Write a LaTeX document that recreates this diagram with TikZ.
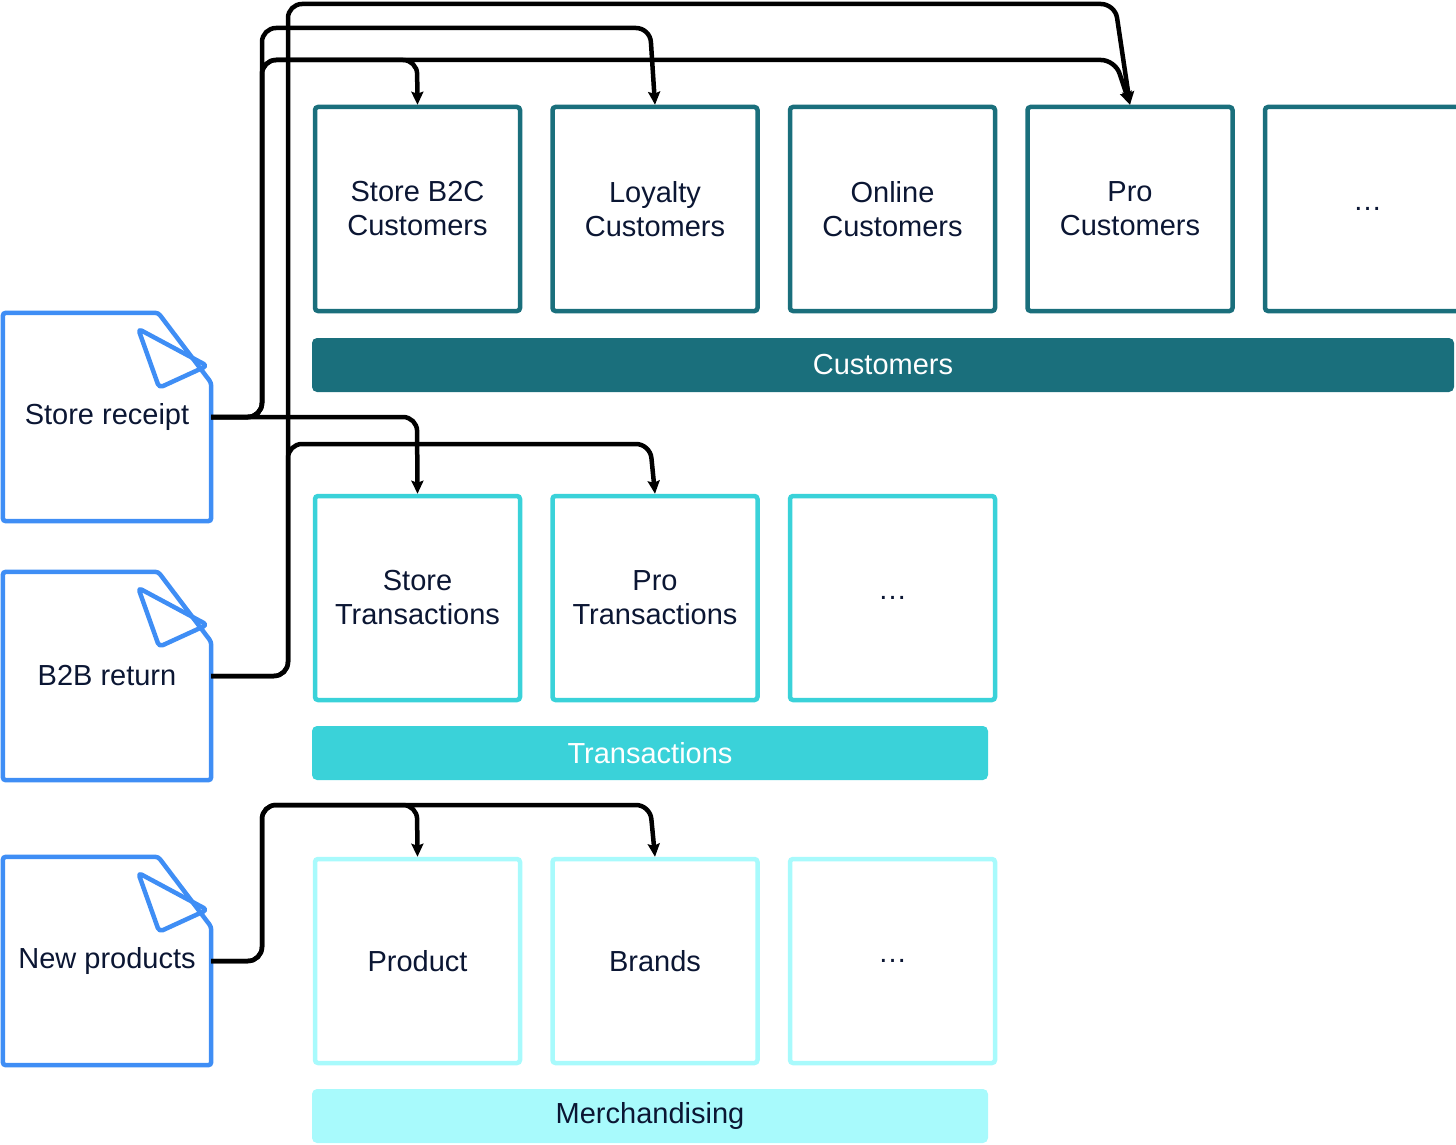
\documentclass[tikz,border=0pt]{standalone}
\usepackage{fontspec}
\setmainfont{Liberation Sans}
\usetikzlibrary{arrows.meta,positioning}
\definecolor{cust}{HTML}{1A6F7C}
\definecolor{trans}{HTML}{3AD2D9}
\definecolor{merch}{HTML}{A8FAFC}
\definecolor{docblue}{HTML}{3F8EF5}
\definecolor{ink}{HTML}{0B1633}
\tikzset{
  box/.style={draw=#1, line width=4.5pt, rounded corners=3pt, minimum width=205pt, minimum height=204pt, align=center, text=ink, inner sep=0pt},
  bar/.style={fill=#1, rounded corners=5pt, minimum width=1142pt, minimum height=54pt, inner sep=0pt},
  doc/.style={minimum width=208pt, minimum height=208pt, text=ink, inner sep=0pt},
  conn/.style={line width=4.5pt, rounded corners=14pt, -{Stealth[length=13pt,width=12pt,inset=2pt]}},
}
\newcommand{\docshape}[1]{%
  \draw[docblue, line width=4.5pt, rounded corners=3pt]
    (#1.north west) -- ([xshift=-53pt]#1.north east) -- ([yshift=-70pt]#1.north east)
    -- (#1.south east) -- (#1.south west) -- cycle;
  \draw[docblue, line width=4.5pt, rounded corners=4pt, line join=round]
    ([xshift=-73pt,yshift=-16pt]#1.north east) -- ([xshift=-52pt,yshift=-75pt]#1.north east)
    -- ([xshift=-4pt,yshift=-53pt]#1.north east) -- cycle;
}
\begin{document}
\begin{tikzpicture}[x=1pt,y=-1pt,font=\fontsize{29}{34}\selectfont]
\useasboundingbox (0,0) rectangle (1456,1145);
% documents
\node[doc] (rec) at (107,417) {Store receipt};
\node[doc] (ret) at (107,676) {B2B return};
\node[doc] (new) at (107,961) {New products};
\docshape{rec}\docshape{ret}\docshape{new}
% customers
\node[box=cust] (b2c) at (417.5,209) {Store B2C\\Customers};
\node[box=cust, right=28pt of b2c] (loy) {Loyalty\\Customers};
\node[box=cust, right=28pt of loy] (onl) {Online\\Customers};
\node[box=cust, right=28pt of onl] (pro) {Pro\\Customers};
\node[box=cust, right=28pt of pro] (cmore) {\dots};
\node[bar=cust, text=white] (custbar) at (883,365) {Customers};
% transactions
\node[box=trans] (stt) at (417.5,598) {Store\\Transactions};
\node[box=trans, right=28pt of stt] (prt) {Pro\\Transactions};
\node[box=trans, right=28pt of prt] (tmore) {\dots};
\node[bar=trans, minimum width=676pt, text=white] (transbar) at (650,753) {Transactions};
% merchandising
\node[box=merch] (prod) at (417.5,961) {Product};
\node[box=merch, right=28pt of prod] (brand) {Brands};
\node[box=merch, right=28pt of brand] (mmore) {\dots};
\node[bar=merch, minimum width=676pt, text=ink] (merchbar) at (650,1116) {Merchandising};
% connectors
\draw[conn] (rec.east) -- (262,417) -- (262,28) -- (650,28) -- (loy.north);
\draw[conn] (rec.east) -- (262,417) -- (262,60) -- (417,60) -- (b2c.north);
\draw[conn] (rec.east) -- (262,417) -- (262,60) -- (1115,60) -- (pro.north);
\draw[conn] (rec.east) -- (417,417) -- (stt.north);
\draw[conn] (ret.east) -- (288,676) -- (288,4) -- (1115,4) -- (pro.north);
\draw[conn] (ret.east) -- (288,676) -- (288,444) -- (650,444) -- (prt.north);
\draw[conn] (new.east) -- (262,961) -- (262,805) -- (417,805) -- (prod.north);
\draw[conn] (new.east) -- (262,961) -- (262,805) -- (650,805) -- (brand.north);
\end{tikzpicture}
\end{document}
